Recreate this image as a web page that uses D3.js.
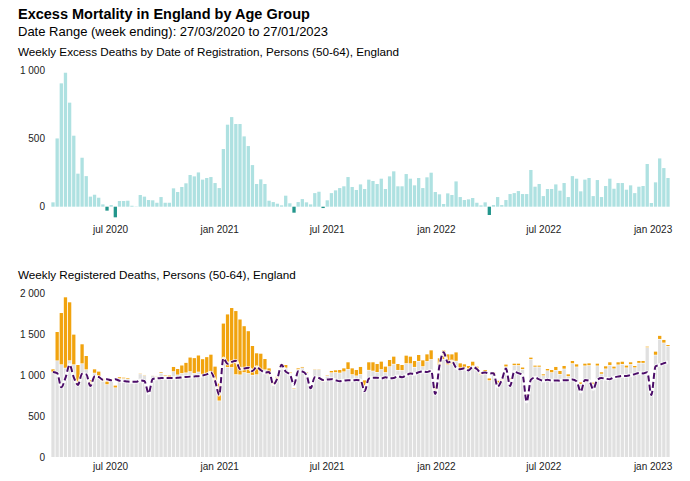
<!DOCTYPE html>
<html>
<head>
<meta charset="utf-8">
<script src="https://cdn.jsdelivr.net/npm/d3@7"></script>
<style>
  html, body { margin: 0; padding: 0; background: #ffffff; }
  svg { display: block; }
  text { font-family: "Liberation Sans", Arial, Helvetica, sans-serif; }
</style>
</head>
<body>
<svg id="chart" width="690" height="481"></svg>
<script>
// ---------------- DATA ----------------
const firstWeekEnding = "2020-03-27";
const titleText = "Excess Mortality in England by Age Group";
const subtitleText = "Date Range (week ending): 27/03/2020 to 27/01/2023";
const topPanelTitle = "Weekly Excess Deaths by Date of Registration, Persons (50-64), England";
const bottomPanelTitle = "Weekly Registered Deaths, Persons (50-64), England";
const xTickLabels = ["2020-07-01", "2021-01-01", "2021-07-01", "2022-01-01", "2022-07-01", "2023-01-01"];
const topYTicks = [0, 500, 1000];
const bottomYTicks = [0, 500, 1000, 1500, 2000];

// weekly excess deaths (top panel)
const excessDeaths = [
  32, 502, 907, 985, 765, 522, 243, 360, 225, 74,
  88, 66, 17, -29, 12, -78, 42, 42, 44, 7,
  2, 86, 74, 49, 47, 29, 71, 29, 29, 135,
  108, 145, 172, 233, 223, 252, 199, 211, 218, 174,
  137, 424, 603, 659, 608, 608, 517, 446, 306, 167,
  201, 167, 44, 34, 22, 10, 81, 25, -44, 34,
  56, 32, 17, 100, 110, -10, 47, 100, 120, 137,
  150, 218, 145, 123, 164, 130, 199, 189, 167, 206,
  130, 223, 260, 150, 150, 240, 206, 157, 211, 137,
  216, 250, 108, 91, 20, 98, 86, 186, 71, 49,
  54, 64, 29, 10, 32, -61, 12, 71, 12, 49,
  93, 100, 115, 93, 93, 270, 147, 167, 78, 130,
  130, 164, 118, 174, 71, 225, 206, 113, 199, 211,
  78, 196, 71, 152, 206, 132, 174, 174, 125, 157,
  100, 147, 152, 314, 27, 179, 355, 284, 211
];

// registered deaths, all causes (bar tops, bottom panel)
const registeredDeaths = [
  1071, 1527, 1759, 1951, 1890, 1495, 1124, 1377, 1234, 941,
  1071, 1043, 961, 921, 949, 872, 974, 969, 965, 925,
  920, 1022, 1002, 829, 1000, 990, 1035, 995, 994, 1100,
  1075, 1118, 1150, 1215, 1208, 1240, 1195, 1220, 1250, 1104,
  897, 1630, 1742, 1820, 1783, 1680, 1598, 1537, 1356, 1267,
  1262, 1197, 1083, 920, 982, 1136, 1124, 1035, 839, 1083,
  1100, 1035, 856, 1075, 1075, 931, 994, 1051, 1059, 1063,
  1083, 1157, 1083, 1063, 1100, 936, 1157, 1157, 1136, 1165,
  1104, 1185, 1226, 1136, 1124, 1238, 1226, 1173, 1246, 1181,
  1254, 1303, 878, 1206, 1300, 1254, 1254, 1278, 1144, 1132,
  1112, 1164, 1104, 1035, 1063, 960, 1035, 931, 953, 1129,
  961, 1140, 1140, 1093, 769, 1214, 1116, 1116, 1010, 1075,
  1063, 1100, 1051, 1112, 1010, 1173, 1132, 911, 1140, 1144,
  908, 1140, 1035, 1108, 1157, 1104, 1157, 1164, 1116, 1157,
  1112, 1173, 1173, 1348, 785, 1287, 1480, 1430, 1368
];

// deaths involving COVID-19 (orange part)
const covidDeaths = [
  35, 355, 635, 868, 717, 371, 244, 241, 171, 61,
  49, 61, 41, 40, 20, 30, 20, 15, 15, 12,
  8, 10, 10, 8, 8, 10, 15, 15, 30, 60,
  75, 100, 125, 175, 190, 205, 200, 200, 215, 180,
  215, 480, 650, 730, 780, 680, 570, 520, 360, 265,
  225, 135, 80, 40, 40, 32, 40, 20, 12, 20,
  15, 12, 10, 10, 10, 12, 12, 25, 30, 40,
  45, 90, 80, 75, 95, 70, 100, 110, 105, 100,
  75, 85, 95, 80, 70, 100, 90, 80, 80, 80,
  90, 115, 70, 90, 110, 130, 120, 110, 80, 65,
  55, 60, 45, 35, 35, 30, 30, 30, 25, 30,
  25, 25, 25, 25, 20, 25, 20, 20, 20, 25,
  35, 45, 45, 40, 30, 35, 35, 25, 30, 30,
  20, 30, 25, 35, 40, 30, 35, 35, 30, 30,
  25, 30, 30, 15, 10, 45, 45, 40, 20
];

// expected deaths (dashed line)
const expectedDeaths = [
  1039, 1025, 852, 966, 1125, 973, 881, 1017, 1009, 867,
  983, 977, 944, 950, 937, 950, 932, 927, 921, 918,
  918, 936, 928, 780, 953, 961, 964, 966, 965, 965,
  967, 973, 978, 982, 985, 988, 996, 1009, 1032, 930,
  760, 1206, 1139, 1161, 1175, 1072, 1081, 1091, 1050, 1100,
  1061, 1030, 1039, 886, 960, 1126, 1043, 1010, 883, 1049,
  1044, 1003, 839, 975, 965, 941, 947, 951, 939, 926,
  933, 939, 938, 940, 936, 806, 958, 968, 969, 959,
  974, 962, 966, 986, 974, 998, 1020, 1016, 1035, 1044,
  1038, 1053, 770, 1115, 1280, 1156, 1168, 1092, 1073, 1083,
  1058, 1100, 1075, 1025, 1031, 1021, 1023, 860, 941, 1080,
  868, 1040, 1025, 1000, 676, 944, 969, 949, 932, 945,
  933, 936, 933, 938, 939, 948, 926, 798, 941, 933,
  830, 944, 964, 956, 951, 972, 983, 990, 991, 1000,
  1012, 1026, 1021, 1034, 758, 1108, 1125, 1146, 1157
];

// ---------------- CHART ----------------
const parse = d3.timeParse("%Y-%m-%d");
const start = parse(firstWeekEnding);
const weeks = excessDeaths.map((_, i) => d3.timeDay.offset(start, 7 * i));
const rows = weeks.map((w, i) => ({
  week: w,
  excess: excessDeaths[i],
  total: registeredDeaths[i],
  covid: covidDeaths[i],
  expected: expectedDeaths[i]
}));

const svg = d3.select("#chart");
const colPos = "#aee1e1", colNeg = "#23968c", colGrey = "#e0e0e0",
      colOrange = "#f1a30e", colLine = "#4b0c68";

const x = d3.scaleTime().domain([weeks[0], weeks[weeks.length - 1]]).range([53, 668]);
const barW = 3.3;

const loc = d3.formatLocale({decimal: ".", thousands: " ", grouping: [3], currency: ["", ""]});
const fmt = loc.format(",");
const monthFmt = d3.timeFormat("%b %Y");
const xTicks = xTickLabels.map(parse);

// Titles
svg.append("text").attr("x", 18).attr("y", 19)
  .attr("font-size", 14.5).attr("font-weight", "bold").attr("fill", "#000").text(titleText);
svg.append("text").attr("x", 18).attr("y", 36)
  .attr("font-size", 13).attr("fill", "#000").text(subtitleText);
svg.append("text").attr("x", 18).attr("y", 56)
  .attr("font-size", 11.7).attr("fill", "#000").text(topPanelTitle);
svg.append("text").attr("x", 18).attr("y", 279)
  .attr("font-size", 11.7).attr("fill", "#000").text(bottomPanelTitle);

function styleAxis(g) {
  g.select(".domain").remove();
  g.selectAll("line").remove();
  g.selectAll("text").attr("font-size", 10).attr("fill", "#222")
    .attr("font-family", "Liberation Sans, Arial, sans-serif");
}

// ---- Top panel ----
const yTop = d3.scaleLinear().domain([0, 1000]).range([206.7, 70.7]);

svg.append("g").selectAll("rect").data(rows).join("rect")
  .attr("x", d => x(d.week) - barW / 2)
  .attr("width", barW)
  .attr("y", d => d.excess >= 0 ? yTop(d.excess) : yTop(0))
  .attr("height", d => Math.abs(yTop(d.excess) - yTop(0)))
  .attr("fill", d => d.excess >= 0 ? colPos : colNeg);

svg.append("g").attr("transform", "translate(48,0)")
  .call(d3.axisLeft(yTop).tickValues(topYTicks).tickFormat(fmt).tickSize(0).tickPadding(3))
  .call(styleAxis);

svg.append("g").attr("transform", "translate(0,223)")
  .call(d3.axisBottom(x).tickValues(xTicks).tickFormat(d => monthFmt(d).toLowerCase()).tickSize(0).tickPadding(3))
  .call(styleAxis);

// ---- Bottom panel ----
const yBot = d3.scaleLinear().domain([0, 2000]).range([457, 293.3]);

svg.append("g").selectAll("rect").data(rows).join("rect")
  .attr("x", d => x(d.week) - barW / 2)
  .attr("width", barW)
  .attr("y", d => yBot(d.total - d.covid))
  .attr("height", d => yBot(0) - yBot(d.total - d.covid))
  .attr("fill", colGrey);

svg.append("g").selectAll("rect").data(rows).join("rect")
  .attr("x", d => x(d.week) - barW / 2)
  .attr("width", barW)
  .attr("y", d => yBot(d.total))
  .attr("height", d => Math.max(0, yBot(d.total - d.covid) - yBot(d.total) - 0.6))
  .attr("fill", colOrange);

const line = d3.line().x(d => x(d.week)).y(d => yBot(d.expected)).curve(d3.curveMonotoneX);
svg.append("path").datum(rows).attr("d", line)
  .attr("fill", "none").attr("stroke", "#ffffff").attr("stroke-width", 3.6).attr("stroke-opacity", 0.85)
  .attr("stroke-linejoin", "round");
svg.append("path").datum(rows).attr("d", line)
  .attr("fill", "none").attr("stroke", colLine).attr("stroke-width", 2)
  .attr("stroke-dasharray", "6,3");

svg.append("g").attr("transform", "translate(48,0)")
  .call(d3.axisLeft(yBot).tickValues(bottomYTicks).tickFormat(fmt).tickSize(0).tickPadding(3))
  .call(styleAxis);

svg.append("g").attr("transform", "translate(0,460)")
  .call(d3.axisBottom(x).tickValues(xTicks).tickFormat(d => monthFmt(d).toLowerCase()).tickSize(0).tickPadding(3))
  .call(styleAxis);
</script>
</body>
</html>
